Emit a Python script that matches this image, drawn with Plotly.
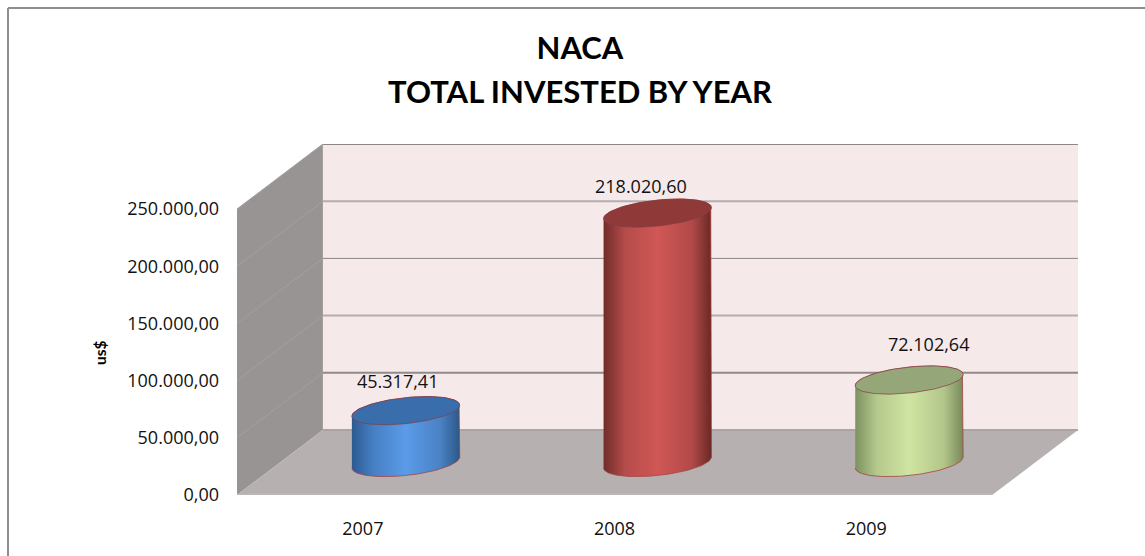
import numpy as np
import plotly.graph_objects as go

# Chart content
years = ["2007", "2008", "2009"]
invested = [45317.41, 218020.60, 72102.64]
axis_ticks = [0, 50000, 100000, 150000, 200000, 250000]
tick_labels = ["0,00", "50.000,00", "100.000,00", "150.000,00", "200.000,00", "250.000,00"]

# Cylinder styling per series
body_colors = [
    ["#2c5a90", "#4680c4", "#5b9be8", "#4a82c4", "#2c5888"],
    ["#702c2a", "#b54c4a", "#d05755", "#b04a48", "#6a2825"],
    ["#7c9160", "#b4c98c", "#d0e4a2", "#b2c68a", "#77895a"],
]
body_stops = [0, 0.2, 0.5, 0.82, 1]
cap_colors = ["#3a6dab", "#8f3a38", "#95a678"]
label_shift = [(-8, -30), (-17, -27), (19, -36)]

WIDTH, HEIGHT = 1145, 556
LEFT, RIGHT, TOP, BOTTOM = 237, 1078, 144, 495
LABEL_FONT = "Open Sans, sans-serif"
HEAD_FONT = "Lato, sans-serif"

# Oblique projection: depth of the box and its pixel scales
PX_PER_CAT = 252.0
PX_PER_VAL = 286.0 / 250000.0
DEPTH_X = 86.0 / PX_PER_CAT
DEPTH_Y = 65.0 / PX_PER_VAL
X0, X1 = -0.5, 2.5
Y_MAX = 250000 + DEPTH_Y

# Ellipse of a cylinder end, sheared so it rises to the right
A = 54.0 / PX_PER_CAT
B = 13.0 / PX_PER_VAL
C = 5.5 / PX_PER_VAL


def ring(cx, cy, t):
    return cx + A * np.cos(t), cy + C * np.cos(t) + B * np.sin(t)


def euro_format(v):
    return f"{v:,.2f}".replace(",", "#").replace(".", ",").replace("#", ".")


def poly_path(xs, ys):
    return "M " + " L ".join(f"{x},{y}" for x, y in zip(xs, ys)) + " Z"


fig = go.Figure()

# Box walls and floor
shapes = [
    dict(type="path", layer="below", xref="x", yref="y", line_width=0, fillcolor="#f5e9ea",
         path=poly_path([X0 + DEPTH_X, X1 + DEPTH_X, X1 + DEPTH_X, X0 + DEPTH_X],
                        [DEPTH_Y, DEPTH_Y, Y_MAX, Y_MAX])),
    dict(type="path", layer="below", xref="x", yref="y", line_width=0, fillcolor="#989493",
         path=poly_path([X0, X0 + DEPTH_X, X0 + DEPTH_X, X0],
                        [0, DEPTH_Y, Y_MAX, 250000])),
    dict(type="path", layer="below", xref="x", yref="y", line_width=0, fillcolor="#b7b0b0",
         path=poly_path([X0, X1, X1 + DEPTH_X, X0 + DEPTH_X], [0, 0, DEPTH_Y, DEPTH_Y])),
    dict(type="line", layer="below", xref="x", yref="y", x0=X0, x1=X1, y0=0, y1=0,
         line=dict(color="#bbb8b8", width=3)),
]

# Gridlines: a run across the side wall and one along the back wall
grid_styles = [("#aaa4a4", 2), ("#8f8b8b", 2), ("#b5aeae", 2), ("#8a8686", 1), ("#b5aeae", 2), ("#8c8888", 2)]
for v, (col, w) in zip(axis_ticks, grid_styles):
    if v > 0:
        shapes.append(dict(type="line", layer="below", xref="x", yref="y",
                           x0=X0, x1=X0 + DEPTH_X, y0=v, y1=v + DEPTH_Y,
                           line=dict(color="#a3a09f", width=1)))
    shapes.append(dict(type="line", layer="below", xref="x", yref="y",
                       x0=X0 + DEPTH_X, x1=X1 + DEPTH_X, y0=v + DEPTH_Y, y1=v + DEPTH_Y,
                       line=dict(color=col, width=w)))

# Chart frame, open on the right and at the bottom
fx = lambda px: (px - LEFT) / (RIGHT - LEFT)
fy = lambda py: (BOTTOM - py) / (BOTTOM - TOP)
frame = dict(color="#8e8e8e", width=2)
shapes.append(dict(type="line", xref="paper", yref="paper", x0=fx(8), x1=fx(WIDTH), y0=fy(8), y1=fy(8), line=frame))
shapes.append(dict(type="line", xref="paper", yref="paper", x0=fx(8), x1=fx(8), y0=fy(8), y1=fy(HEIGHT), line=frame))

# Cylinders
annotations = []
for i, value in enumerate(invested):
    cx = i + DEPTH_X / 2
    base = DEPTH_Y / 2
    top = base + value

    t_low = np.linspace(np.pi, 2 * np.pi, 60)
    t_high = np.linspace(0, np.pi, 60)
    xb, yb = ring(cx, base, t_low)
    xt, yt = ring(cx, top, t_high)
    fig.add_trace(go.Scatter(
        x=np.r_[xb, xt], y=np.r_[yb, yt], mode="lines", fill="toself",
        fillgradient=dict(type="horizontal",
                          colorscale=[[s, c] for s, c in zip(body_stops, body_colors[i])]),
        line=dict(color="rgba(165,60,60,0.75)", width=1),
        hoverinfo="skip", showlegend=False,
    ))

    t_all = np.linspace(0, 2 * np.pi, 120)
    xc, yc = ring(cx, top, t_all)
    fig.add_trace(go.Scatter(
        x=xc, y=yc, mode="lines", fill="toself", fillcolor=cap_colors[i],
        line=dict(color="rgba(130,60,70,0.7)", width=1),
        hoverinfo="skip", showlegend=False,
    ))

    dx, dy = label_shift[i]
    annotations.append(dict(
        x=cx, y=top, xref="x", yref="y", text=euro_format(value), showarrow=False,
        xshift=dx, yshift=-dy, font=dict(family=LABEL_FONT, size=18, color="#111111"),
    ))

# Rotated unit label beside the value axis
annotations.append(dict(
    x=fx(100), y=fy(353), xref="paper", yref="paper", xanchor="center", yanchor="middle",
    text="<b>us$</b>", textangle=-90, showarrow=False,
    font=dict(family=HEAD_FONT, size=15.5, color="#000000"),
))

fig.update_layout(
    width=WIDTH, height=HEIGHT,
    margin=dict(l=LEFT, r=WIDTH - RIGHT, t=TOP, b=HEIGHT - BOTTOM),
    paper_bgcolor="white", plot_bgcolor="white",
    title=dict(
        text='<b><span style="font-size:31px">NACA</span><br>'
             '<span style="font-size:31px">TOTAL INVESTED BY YEAR</span></b>',
        x=580 / WIDTH, xanchor="center", y=1 - 59 / HEIGHT, yanchor="top",
        font=dict(family=HEAD_FONT, size=34, color="#000000"),
    ),
    xaxis=dict(range=[X0, X1 + DEPTH_X], tickmode="array", tickvals=[0, 1, 2], ticktext=years,
               showgrid=False, zeroline=False, showline=False, ticks="", ticklabelstandoff=21,
               tickfont=dict(family=LABEL_FONT, size=18, color="#111111")),
    yaxis=dict(range=[0, Y_MAX], tickmode="array", tickvals=axis_ticks, ticktext=tick_labels,
               showgrid=False, zeroline=False, showline=False, ticks="", ticklabelstandoff=17,
               tickfont=dict(family=LABEL_FONT, size=18, color="#111111")),
    shapes=shapes, annotations=annotations,
)

fig.write_html("out.html", config=dict(displayModeBar=False))
